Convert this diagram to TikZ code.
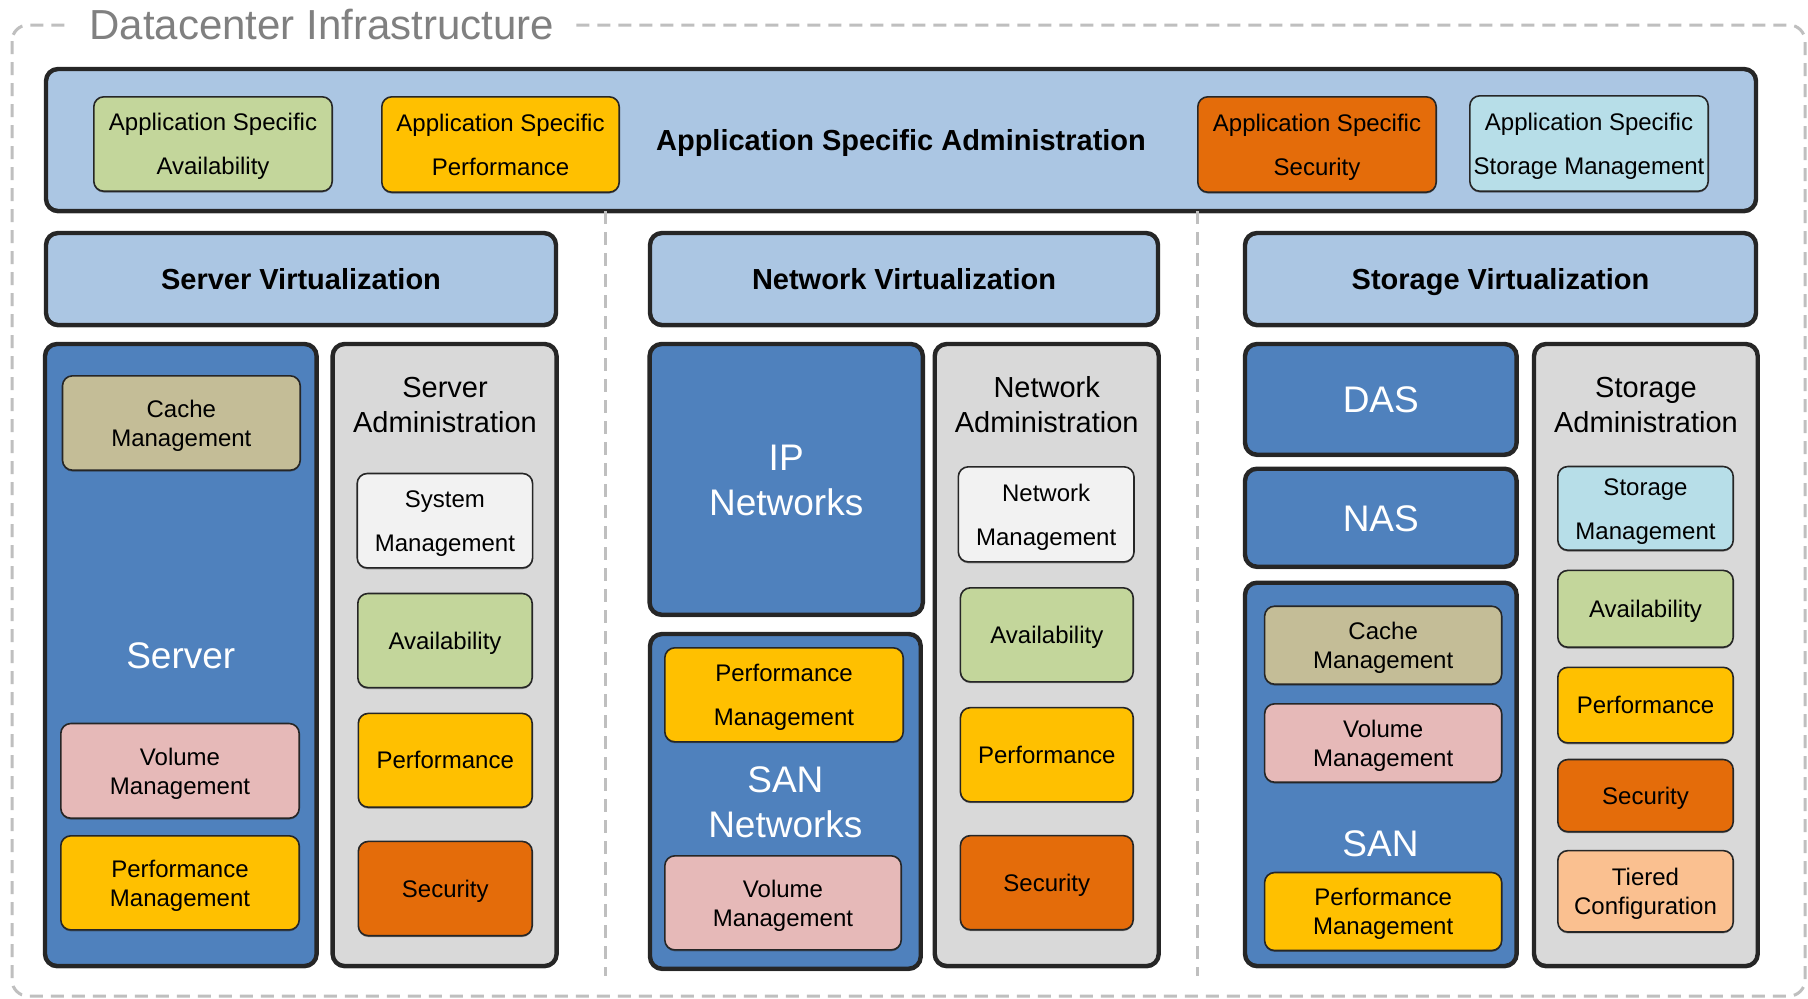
\documentclass[tikz,border=0pt]{standalone}
\usepackage{fontspec}
\setmainfont{Liberation Sans}
\usetikzlibrary{shadows}
\definecolor{dk}{HTML}{262626}
\definecolor{hdrblue}{HTML}{ABC6E3}
\definecolor{dblue}{HTML}{4F81BD}
\definecolor{admgray}{HTML}{D9D9D9}
\definecolor{tanc}{HTML}{C4BD97}
\definecolor{pinkc}{HTML}{E6B9B8}
\definecolor{orangec}{HTML}{FFC000}
\definecolor{secc}{HTML}{E46C0A}
\definecolor{greenc}{HTML}{C3D69B}
\definecolor{cyanc}{HTML}{B7DEE8}
\definecolor{whitec}{HTML}{F2F2F2}
\definecolor{peachc}{HTML}{FAC090}
\definecolor{sepgray}{HTML}{BFBFBF}
\definecolor{titlegray}{HTML}{808080}
\newcommand\vs{\rule[-0.24em]{0pt}{1.2em}}
\newcommand\BB[7]{\node[#1, minimum width={(#4-#2-4)*0.5pt}, minimum height={(#5-#3-4)*0.5pt}] (#6) at ({(#2+#4)/2},{(#3+#5)/2}) {\vs#7\vs};}
\newcommand\SB[7]{\node[#1, minimum width={(#4-#2-1.6)*0.5pt}, minimum height={(#5-#3-1.6)*0.5pt}] (#6) at ({(#2+#4)/2},{(#3+#5)/2}) {\vs#7\vs};}
\begin{document}
\begin{tikzpicture}[x=0.5pt,y=-0.5pt,
  big/.style={draw=dk, line width=2.2pt, rounded corners=6pt, inner sep=0pt, outer sep=0pt, align=center,
    drop shadow={shadow xshift=0pt, shadow yshift=-1.2pt, fill=dk, opacity=0.55}},
  sm/.style={draw=dk, line width=0.8pt, rounded corners=5pt, inner sep=0pt, outer sep=0pt, align=center, font=\fontsize{12}{14.5}\selectfont,
    drop shadow={shadow xshift=0pt, shadow yshift=-0.7pt, fill=dk, opacity=0.45}},
  wide/.style={font=\fontsize{12}{22}\selectfont},
  hdr/.style={big, fill=hdrblue, font=\fontsize{14.5}{17}\selectfont\bfseries},
  blu/.style={big, fill=dblue, text=white, font=\fontsize{18.5}{22.5}\selectfont},
  adm/.style={big, fill=admgray},
  admtitle/.style={font=\fontsize{14.5}{17.5}\selectfont, align=center, inner sep=0pt},
  bigwhite/.style={text=white, font=\fontsize{18.5}{22.5}\selectfont, align=center, inner sep=0pt},
  sepline/.style={draw=sepgray, line width=1.5pt, dash pattern=on 6.5pt off 4pt}
]
\useasboundingbox (0,0) rectangle (1808,998);
\fill[white] (0,0) rectangle (1808,998);
% outer dashed frame
\draw[sepline, rounded corners=8pt] (12,25) rectangle (1805,996);
\node[font=\fontsize{21}{25}\selectfont, text=titlegray, fill=white, inner xsep=10pt, inner ysep=3pt, anchor=west] (title) at (69,25) {Datacenter Infrastructure};

% banner
\BB{hdr}{44}{67}{1758}{213}{banner}{Application Specific Administration}
\SB{sm,wide,fill=greenc}{93}{96}{333}{192}{asa}{Application Specific\\Availability}
\SB{sm,wide,fill=orangec}{381}{96}{620}{193}{asp}{Application Specific\\Performance}
\SB{sm,wide,fill=secc}{1197}{96}{1437}{193}{ass}{Application Specific\\Security}
\SB{sm,wide,fill=cyanc}{1469}{95}{1709}{192}{asm}{Application Specific\\Storage Management}

% separators
\coordinate (s1) at (605.5,976);
\coordinate (s2) at (1197,976);
\draw[sepline] (banner.south -| s1) -- (s1);
\draw[sepline] (banner.south -| s2) -- (s2);

% headers
\BB{hdr}{44}{231}{558}{327}{sv}{Server Virtualization}
\BB{hdr}{648}{231}{1160}{327}{nv}{Network Virtualization}
\BB{hdr}{1243}{231}{1758}{327}{stv}{Storage Virtualization}

% server column
\BB{blu}{43}{342}{318.6}{968}{server}{Server}
\SB{sm,fill=tanc}{61.7}{375}{301}{471}{cache1}{Cache\\Management}
\SB{sm,fill=pinkc}{60}{722.7}{300}{819}{vol1}{Volume\\Management}
\SB{sm,fill=orangec}{60}{835}{300}{930.7}{perf1}{Performance\\Management}
\BB{adm}{330.6}{342}{558.6}{968}{sadm}{}
\node[admtitle] (sadmt) at (445,404.5) {\vs Server\\Administration\vs};
\SB{sm,wide,fill=whitec}{356.4}{472.7}{533.4}{568.7}{sysm}{System\\Management}
\SB{sm,fill=greenc}{357}{592.7}{533}{688.4}{savail}{Availability}
\SB{sm,fill=orangec}{357.5}{712.6}{533}{808}{sperf}{Performance}
\SB{sm,fill=secc}{357.5}{840.6}{533}{936.5}{ssec}{Security}

% network column
\BB{blu}{647.6}{342}{924.8}{616.7}{ip}{IP\\Networks}
\BB{blu}{648}{632}{922.7}{970.7}{sann}{SAN\\Networks}
\SB{sm,wide,fill=orangec}{664}{647}{904}{742.6}{perf2}{Performance\\Management}
\SB{sm,fill=pinkc}{664}{855}{902}{950.7}{vol2}{Volume\\Management}
\BB{adm}{932.7}{342}{1160.7}{968}{nadm}{}
\node[admtitle] (nadmt) at (1046.7,404.5) {\vs Network\\Administration\vs};
\SB{sm,wide,fill=whitec}{957.5}{466}{1134.8}{562.7}{netm}{Network\\Management}
\SB{sm,fill=greenc}{959.6}{587}{1134}{682.6}{navail}{Availability}
\SB{sm,fill=orangec}{959.6}{706.8}{1134}{802.6}{nperf}{Performance}
\SB{sm,fill=secc}{959.6}{834.8}{1134}{930.5}{nsec}{Security}

% storage column
\BB{blu}{1243}{342}{1518.6}{456.7}{das}{DAS}
\BB{blu}{1243}{466.7}{1518.6}{568.7}{nas}{NAS}
\BB{blu}{1243}{580.7}{1518.6}{968}{san}{}
\node[bigwhite] (sant) at (1380.5,843) {\vs SAN\vs};
\SB{sm,fill=tanc}{1263.8}{605.4}{1502.5}{685}{cache3}{Cache\\Management}
\SB{sm,fill=pinkc}{1263.8}{703}{1502.5}{783}{vol3}{Volume\\Management}
\SB{sm,fill=orangec}{1263.8}{871.7}{1502.5}{951.3}{perf3}{Performance\\Management}
\BB{adm}{1532}{342}{1759.7}{968}{stadm}{}
\node[admtitle] (stadmt) at (1646,404.5) {\vs Storage\\Administration\vs};
\SB{sm,wide,fill=cyanc}{1557}{465.7}{1734}{551}{stm}{Storage\\Management}
\SB{sm,fill=greenc}{1557}{569.6}{1734}{648}{stavail}{Availability}
\SB{sm,fill=orangec}{1557}{666.5}{1734}{743.7}{stperf}{Performance}
\SB{sm,fill=secc}{1557}{758.7}{1734}{832.5}{stsec}{Security}
\SB{sm,fill=peachc}{1557}{849.8}{1734}{932.8}{tier}{Tiered\\Configuration}
\end{tikzpicture}
\end{document}
